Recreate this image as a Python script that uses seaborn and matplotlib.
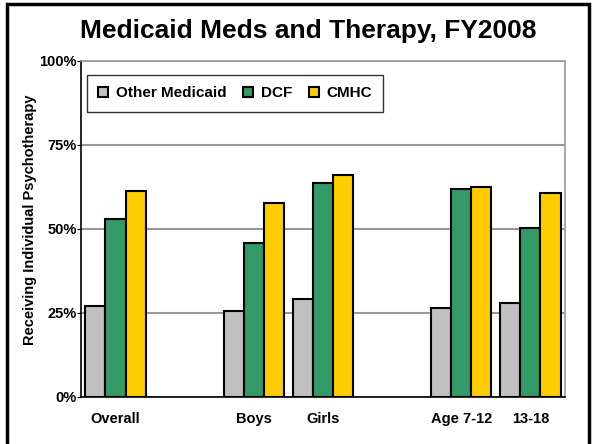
import pandas as pd
import seaborn as sns
from matplotlib import pyplot as plt
from matplotlib.patches import Rectangle

# categories (blank slots are spacers between the groups)
slots = ["Overall", " ", "Boys", "Girls", "  ", "Age 7-12", "13-18"]
groups = ["Overall", "Boys", "Girls", "Age 7-12", "13-18"]
series = ["Other Medicaid", "DCF", "CMHC"]

other_medicaid = [27.2, 25.7, 29.1, 26.6, 27.8]
dcf = [52.9, 45.7, 63.6, 61.8, 50.4]
cmhc = [61.2, 57.8, 65.9, 62.4, 60.6]

colors = ["#C0C0C0", "#339966", "#FFCC00"]

rows = []
for name, vals in zip(series, [other_medicaid, dcf, cmhc]):
    for g, v in zip(groups, vals):
        rows.append({"group": g, "series": name, "value": v})
df = pd.DataFrame(rows)

sns.set_style("white")
plt.rcParams['font.family'] = ['Liberation Sans', 'DejaVu Sans']
plt.rcParams['font.weight'] = 'bold'
plt.rcParams['text.color'] = 'black'
plt.rcParams['xtick.color'] = 'black'
plt.rcParams['ytick.color'] = 'black'

fig = plt.figure(figsize=(5.95, 4.44), dpi=100)
ax = fig.add_axes([0.136, 0.106, 0.8136, 0.757])

sns.barplot(data=df, x="group", y="value", hue="series", order=slots,
            hue_order=series, palette=colors, width=0.87, edgecolor="black",
            linewidth=1.5, ax=ax, saturation=1)

ax.set_ylim(0, 100)
ax.set_xlim(-0.5, len(slots) - 0.5)
ax.set_yticks([0, 25, 50, 75, 100])
ax.set_yticklabels(["0%", "25%", "50%", "75%", "100%"], fontsize=10.5, fontweight="bold")
ax.set_xticks(range(len(slots)))
ax.set_xticklabels(slots, fontsize=10.5, fontweight="bold")
ax.set_xlabel("")
ax.set_ylabel("")
ax.tick_params(axis="x", length=0, pad=11)
ax.tick_params(axis="y", length=3, pad=0, left=True, color="black")

ax.yaxis.grid(True, color="#999999", linewidth=1.5)
ax.set_axisbelow(True)
for side in ["top", "right"]:
    ax.spines[side].set_color("#999999")
    ax.spines[side].set_linewidth(1.2)
for side in ["left", "bottom"]:
    ax.spines[side].set_color("black")
    ax.spines[side].set_linewidth(1.2)

leg = ax.legend(loc="upper left", bbox_to_anchor=(0.012, 0.958), borderaxespad=0,
                ncol=3, frameon=True, fancybox=False, handlelength=0.65,
                handleheight=0.65, handletextpad=0.5, columnspacing=1.1,
                borderpad=0.75, prop={"size": 11, "weight": "bold"})
leg.get_frame().set_edgecolor("black")
leg.get_frame().set_linewidth(1.0)

fig.text(0.518, 1 - 38 / 444, "Medicaid Meds and Therapy, FY2008", ha="center",
         va="baseline", fontsize=19, fontweight="bold")
fig.text(0.051, 0.505, "Receiving Individual Psychotherapy", rotation=90,
         ha="center", va="center", fontsize=10.5, fontweight="bold")

# frame around the whole figure
fig.patches.append(Rectangle((7 / 595, -0.05), (589 - 7) / 595, 1.05 - 4 / 444,
                             transform=fig.transFigure, fill=False,
                             edgecolor="black", linewidth=2.5))

fig.savefig("out.png", dpi=100)
